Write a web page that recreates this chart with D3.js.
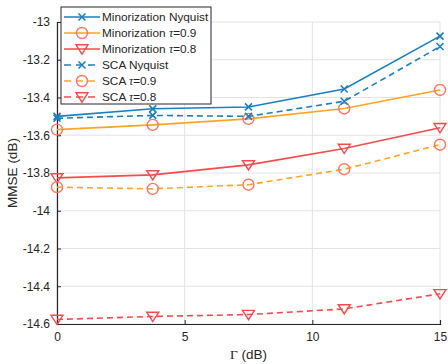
<!DOCTYPE html>
<html>
<head>
<meta charset="utf-8">
<script src="https://cdn.jsdelivr.net/npm/d3@7"></script>
<style>
  body { margin: 0; background: #fff; }
  svg { font-family: "Liberation Sans", Arial, sans-serif; }
  .grid line { stroke: #e3e3e3; stroke-width: 1; }
  .tick text { fill: #262626; font-size: 12px; }
</style>
</head>
<body>
<div id="chart"></div>
<script>
// data
const gammaDb = [0, 3.75, 7.5, 11.25, 15];
const minNyquist = [-13.50, -13.46, -13.45, -13.355, -13.075];
const min09 = [-13.57, -13.545, -13.513, -13.458, -13.36];
const min08 = [-13.826, -13.81, -13.757, -13.67, -13.56];
const scaNyquist = [-13.51, -13.495, -13.50, -13.42, -13.13];
const sca09 = [-13.875, -13.884, -13.862, -13.78, -13.65];
const sca08 = [-14.576, -14.56, -14.55, -14.52, -14.44];

const xTicks = [0, 5, 10, 15];
const yTicks = [-14.6, -14.4, -14.2, -14, -13.8, -13.6, -13.4, -13.2, -13];

const series = [
	{ name: 'Minorization Nyquist', tau: null, values: minNyquist, color: '#1a7fc1', mcolor: '#1a7fc1', marker: 'x', dash: null },
	{ name: 'Minorization ', tau: '0.9', values: min09, color: '#ffa51f', mcolor: '#ff7560', marker: 'o', dash: null },
	{ name: 'Minorization ', tau: '0.8', values: min08, color: '#f8494c', mcolor: '#f8494c', marker: 'v', dash: null },
	{ name: 'SCA Nyquist', tau: null, values: scaNyquist, color: '#1a7fc1', mcolor: '#1a7fc1', marker: 'x', dash: '6,4' },
	{ name: 'SCA ', tau: '0.9', values: sca09, color: '#ffa51f', mcolor: '#ff7560', marker: 'o', dash: '6,4' },
	{ name: 'SCA ', tau: '0.8', values: sca08, color: '#f8494c', mcolor: '#f8494c', marker: 'v', dash: '6,4' }
];

const width = 448, height = 364;
const margin = { left: 57, right: 8, top: 22, bottom: 40 };

const svg = d3.select('#chart').append('svg')
	.attr('width', width)
	.attr('height', height);

const x = d3.scaleLinear().domain([0, 15]).range([margin.left, width - margin.right]);
const y = d3.scaleLinear().domain([-14.6, -13]).range([height - margin.bottom, margin.top]);

// grid
const grid = svg.append('g').attr('class', 'grid');
grid.selectAll('.gx').data(xTicks).enter()
	.append('line')
		.attr('x1', d => x(d)).attr('x2', d => x(d))
		.attr('y1', y.range()[0]).attr('y2', y.range()[1]);
grid.selectAll('.gy').data(yTicks).enter()
	.append('line')
		.attr('x1', x.range()[0]).attr('x2', x.range()[1])
		.attr('y1', d => y(d)).attr('y2', d => y(d));

// axes
const xAxis = svg.append('g')
	.attr('transform', `translate(0,${y.range()[0]})`)
	.call(d3.axisBottom(x).tickValues(xTicks).tickSize(-4).tickPadding(8).tickFormat(d3.format('d')));
const yAxis = svg.append('g')
	.attr('transform', `translate(${x.range()[0]},0)`)
	.call(d3.axisLeft(y).tickValues(yTicks).tickSize(-4).tickPadding(7).tickFormat(d => String(+d.toFixed(1))));
[xAxis, yAxis].forEach(a => {
	a.select('.domain').attr('stroke', '#262626').attr('stroke-width', 1.2);
	a.selectAll('.tick line').attr('stroke', '#262626');
});

// labels
svg.append('text')
	.attr('x', x(7.5)).attr('y', height - 5)
	.attr('text-anchor', 'middle')
	.attr('font-size', 13.5).attr('fill', '#262626')
	.html('<tspan font-family="Liberation Serif, serif">Γ</tspan> (dB)');
svg.append('text')
	.attr('transform', `translate(17,${y(-13.8)}) rotate(-90)`)
	.attr('text-anchor', 'middle')
	.attr('font-size', 13.5).attr('fill', '#262626')
	.text('MMSE (dB)');

function drawMarker(g, type, cx, cy, color) {
	if (type === 'x') {
		const s = 3.5;
		g.append('path')
			.attr('d', `M${cx - s},${cy - s}L${cx + s},${cy + s}M${cx - s},${cy + s}L${cx + s},${cy - s}`)
			.attr('stroke', color).attr('stroke-width', 1.6).attr('fill', 'none');
	} else if (type === 'o') {
		g.append('circle')
			.attr('cx', cx).attr('cy', cy).attr('r', 5.5)
			.attr('stroke', color).attr('stroke-width', 1.4).attr('fill', 'none');
	} else {
		const s = 6;
		g.append('path')
			.attr('d', `M${cx - s},${cy - s * 0.7}L${cx + s},${cy - s * 0.7}L${cx},${cy + s * 0.85}Z`)
			.attr('stroke', color).attr('stroke-width', 1.4).attr('fill', 'none');
	}
}

const line = d3.line()
	.x((d, i) => x(gammaDb[i]))
	.y(d => y(d));

const plot = svg.append('g');
series.forEach(s => {
	plot.append('path')
		.attr('d', line(s.values))
		.attr('fill', 'none')
		.attr('stroke', s.color)
		.attr('stroke-width', 1.6)
		.attr('stroke-dasharray', s.dash);
	s.values.forEach((v, i) => drawMarker(plot, s.marker, x(gammaDb[i]), y(v), s.mcolor));
});

// legend
const lg = svg.append('g').attr('transform', 'translate(61,7)');
lg.append('rect')
	.attr('width', 150).attr('height', 97)
	.attr('fill', '#fff').attr('stroke', '#262626').attr('stroke-width', 1);
series.forEach((s, i) => {
	const ly = 10 + i * 16;
	lg.append('line')
		.attr('x1', 3).attr('x2', 39).attr('y1', ly).attr('y2', ly)
		.attr('stroke', s.color).attr('stroke-width', 1.6)
		.attr('stroke-dasharray', s.dash ? '7,5' : null);
	drawMarker(lg, s.marker, 21, ly, s.mcolor);
	const t = lg.append('text')
		.attr('x', 41).attr('y', ly + 4)
		.attr('font-size', 11.8).attr('fill', '#262626')
		.text(s.name);
	if (s.tau) {
		t.append('tspan').attr('font-family', 'Liberation Serif, serif').attr('font-style', 'italic').text('τ');
		t.append('tspan').text('=' + s.tau);
	}
});
</script>
</body>
</html>
